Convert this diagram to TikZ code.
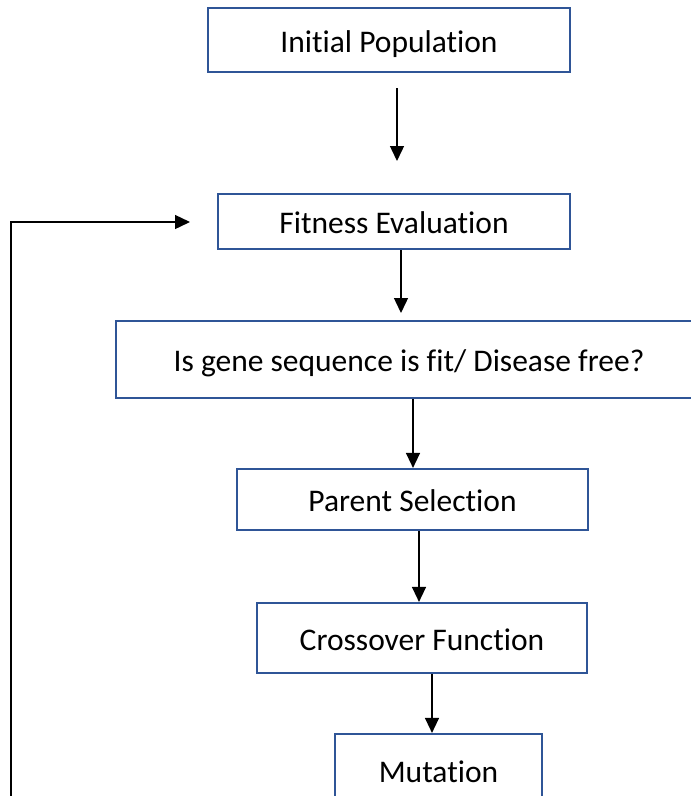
\documentclass[tikz,border=0pt]{standalone}
\usepackage{fontspec}
\setmainfont{Carlito}[Ligatures=NoCommon]
\usetikzlibrary{arrows.meta}
\definecolor{boxblue}{HTML}{2F5597}
\tikzset{
  flowbox/.style={draw=boxblue, line width=2.2pt, rectangle, inner sep=0pt,
    text height=24pt, text depth=0pt, font=\fontsize{31.5}{36}\selectfont},
  conn/.style={draw=black, line width=1.4pt, -{Triangle[width=14pt,length=15pt]}}
}
\begin{document}
\begin{tikzpicture}[x=1pt,y=-1pt]
\useasboundingbox (0,0) rectangle (691,796);
\clip (0,0) rectangle (691,796);
\fill[white] (0,0) rectangle (691,796);

\node[flowbox, minimum width=362pt, minimum height=64pt] (b1) at (389,40) {Initial Population};
\node[flowbox, minimum width=352pt, minimum height=55pt] (b2) at (394,221.5) {Fitness Evaluation};
\node[flowbox, minimum width=586pt, minimum height=77pt] (b3) at (409,359.5) {Is gene sequence is fit/ Disease free?};
\node[flowbox, minimum width=351pt, minimum height=61pt] (b4) at (412.5,499.5) {Parent Selection};
\node[flowbox, minimum width=330pt, minimum height=70pt] (b5) at (422,638) {Crossover Function};
\node[flowbox, minimum width=207pt, minimum height=72pt] (b6) at (438.5,770) {Mutation};

% free ends
\coordinate (a1s) at (397,88);
\coordinate (a1e) at (397,161);
\coordinate (a2e) at (401,313);
\coordinate (x3) at (413,0);
\coordinate (x4) at (419,0);
\coordinate (x5) at (432,0);

\draw[conn] (a1s) -- (a1e);
\draw[conn] (b2.south -| a2e) -- (a2e);
\draw[conn] (b3.south -| x3) -- (b4.north -| x3);
\draw[conn] (b4.south -| x4) -- (b5.north -| x4);
\draw[conn] (b5.south -| x5) -- (b6.north -| x5);

% feedback loop
\coordinate (lb) at (11,800);
\coordinate (lt) at (11,222);
\coordinate (la) at (190,222);
\draw[conn] (lb) -- (lt) -- (la);
\end{tikzpicture}
\end{document}
